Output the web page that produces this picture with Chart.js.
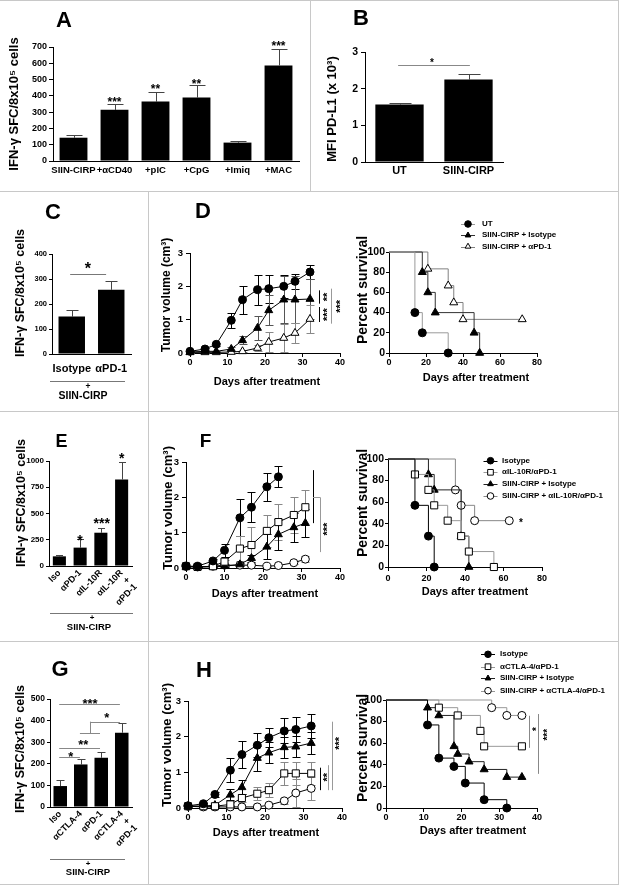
<!DOCTYPE html>
<html><head><meta charset="utf-8"><title>Figure</title>
<script src="https://cdn.jsdelivr.net/npm/chart.js@4.4.1/dist/chart.umd.min.js"></script>
<style>
html,body{margin:0;padding:0;background:#fff;}
#fig{position:relative;width:620px;height:887px;overflow:hidden;background:#fff;font-family:"Liberation Sans",Arial,Helvetica,sans-serif;font-weight:bold;color:#000;}
#fig canvas{position:absolute;}
.t{position:absolute;white-space:nowrap;line-height:1;transform:translate(-50%,-50%);}
.t.r{transform:translate(-50%,-50%) rotate(-90deg);}
.lg{position:absolute;white-space:nowrap;line-height:1;font-size:8px;transform:translateY(-50%);}
.bl{position:absolute;background:#c8c8c8;}
</style></head>
<body><div id="fig"></div>
<script>
// ================= DATA =================
// Panel A
const aCats = ['SIIN-CIRP', '+αCD40', '+pIC', '+CpG', '+Imiq', '+MAC'];
const aVals = [143, 314, 365, 390, 113, 587];
const aErrs = [17, 35, 58, 74, 12, 101];
const aTicks = [0, 100, 200, 300, 400, 500, 600, 700];
// Panel B
const bCats = ['UT', 'SIIN-CIRP'];
const bVals = [1.57, 2.25];
const bErrs = [0.05, 0.16];
const bTicks = [0, 1, 2, 3];
// Panel C
const cCats = ['Isotype', 'αPD-1'];
const cVals = [150, 257];
const cErrs = [27, 36];
const cTicks = [0, 100, 200, 300, 400];
// Panel E
const eCats = ['Iso', 'αPD-1', 'αIL-10R', ['αIL-10R', '+', 'αPD-1']];
const eVals = [92, 175, 317, 825];
const eErrs = [16, 79, 48, 165];
const eTicks = [0, 250, 500, 750, 1000];
// Panel G
const gCats = ['Iso', 'αCTLA-4', 'αPD-1', ['αCTLA-4', '+', 'αPD-1']];
const gVals = [97, 197, 228, 344];
const gErrs = [27, 24, 26, 43];
const gTicks = [0, 100, 200, 300, 400, 500];

// Tumor growth axes
const volTicks = [0, 1, 2, 3];
const dayTicks = [0, 10, 20, 30, 40];
// Survival axes
const pctTicks = [0, 20, 40, 60, 80, 100];
const surv80Ticks = [0, 20, 40, 60, 80];
const surv40Ticks = [0, 10, 20, 30, 40];

// Panel D
const dNames = ['UT', 'SIIN-CIRP + Isotype', 'SIIN-CIRP + αPD-1'];
const dDays = [0, 4, 7, 11, 14, 18, 21, 25, 28, 32];
const dVolUT  = [0.05, 0.12, 0.26, 0.98, 1.60, 1.90, 1.93, 2.00, 2.15, 2.43];
const dErrUT  = [0.02, 0.03, 0.05, 0.22, 0.42, 0.45, 0.42, 0.35, 0.23, 0.22];
const dVolIso = [0.03, 0.05, 0.05, 0.12, 0.38, 0.75, 1.28, 1.60, 1.60, 1.62];
const dErrIso = [0.01, 0.02, 0.02, 0.05, 0.12, 0.35, 0.45, 0.70, 0.70, 0.60];
const dVolPD1 = [0.02, 0.02, 0.02, 0.03, 0.05, 0.15, 0.33, 0.45, 0.60, 1.02];
const dErrPD1 = [0.01, 0.01, 0.01, 0.02, 0.03, 0.10, 0.30, 0.42, 0.30, 0.42];
const dSurvDayUT  = [0, 14, 18, 32];
const dSurvPctUT  = [100, 40, 20, 0];
const dSurvDayIso = [0, 18, 21, 25, 46, 49];
const dSurvPctIso = [100, 80, 60, 40, 20, 0];
const dSurvDayPD1 = [0, 21, 32, 35, 40, 72];
const dSurvPctPD1 = [100, 83.3, 66.7, 50, 33.3, 33.3];

// Panel F
const fNames = ['Isotype', 'αIL-10R/αPD-1', 'SIIN-CIRP + Isotype', 'SIIN-CIRP  + αIL-10R/αPD-1'];
const fDays = [0, 3, 7, 10, 14, 17, 21, 24, 28, 31];
const fVolIso    = [0.05, 0.05, 0.20, 0.50, 1.42, 1.72, 2.30, 2.58];
const fErrIso    = [0.02, 0.02, 0.05, 0.19, 0.52, 0.42, 0.40, 0.30];
const fVolCombo  = [0.05, 0.03, 0.05, 0.18, 0.55, 0.65, 1.05, 1.30, 1.50, 1.72];
const fErrCombo  = [0.01, 0.01, 0.02, 0.06, 0.35, 0.50, 0.45, 0.50, 0.50, 0.50];
const fVolSIso   = [0.03, 0.03, 0.03, 0.05, 0.10, 0.28, 0.60, 0.95, 1.15, 1.27];
const fErrSIso   = [0.01, 0.01, 0.01, 0.02, 0.03, 0.10, 0.35, 0.45, 0.40, 0.40];
const fVolSCombo = [0.05, 0.03, 0.05, 0.08, 0.08, 0.08, 0.05, 0.07, 0.15, 0.25];
const fErrSCombo = [0, 0, 0, 0.02, 0.02, 0.02, 0.02, 0.02, 0.05, 0.08];
const fSurvDayIso    = [0, 14, 21, 24];
const fSurvPctIso    = [100, 57.1, 28.6, 0];
const fSurvDayCombo  = [0, 14, 21, 24, 31, 38, 42, 55];
const fSurvPctCombo  = [100, 85.7, 71.4, 57.1, 42.9, 28.6, 14.3, 0];
const fSurvDaySIso   = [0, 21, 24, 38, 42];
const fSurvPctSIso   = [100, 85.7, 71.4, 28.6, 0];
const fSurvDaySCombo = [0, 35, 38, 45, 63];
const fSurvPctSCombo = [100, 71.4, 57.1, 42.9, 42.9];

// Panel H
const hNames = ['Isotype', 'αCTLA-4/αPD-1', 'SIIN-CIRP + Isotype', 'SIIN-CIRP  + αCTLA-4/αPD-1'];
const hDays = [0, 4, 7, 11, 14, 18, 21, 25, 28, 32];
const hVolIso    = [0.06, 0.12, 0.38, 1.06, 1.50, 1.76, 1.97, 2.16, 2.20, 2.30];
const hErrIso    = [0.02, 0.03, 0.06, 0.33, 0.37, 0.34, 0.27, 0.35, 0.35, 0.33];
const hVolCombo  = [0.05, 0.05, 0.05, 0.10, 0.28, 0.40, 0.50, 0.97, 0.97, 0.97];
const hErrCombo  = [0.01, 0.01, 0.02, 0.05, 0.12, 0.18, 0.20, 0.32, 0.32, 0.32];
const hVolSIso   = [0.05, 0.05, 0.08, 0.37, 0.58, 1.40, 1.55, 1.70, 1.72, 1.82];
const hErrSIso   = [0.01, 0.02, 0.03, 0.15, 0.20, 0.35, 0.30, 0.30, 0.30, 0.30];
const hVolSCombo = [0.05, 0.03, 0.03, 0.03, 0.03, 0.03, 0.08, 0.20, 0.42, 0.55];
const hErrSCombo = [0, 0, 0, 0, 0, 0, 0.03, 0.08, 0.38, 0.33];
const hSurvDayIso    = [0, 11, 14, 18, 21, 26, 32];
const hSurvPctIso    = [100, 76.9, 46.2, 38.5, 23.1, 7.7, 0];
const hSurvDayCombo  = [0, 14, 19, 25, 26, 36];
const hSurvPctCombo  = [100, 92.9, 85.7, 71.4, 57.1, 57.1];
const hSurvDaySIso   = [0, 11, 14, 18, 19, 22, 26, 32, 36];
const hSurvPctSIso   = [100, 92.9, 85.7, 57.1, 50, 42.9, 35.7, 28.6, 28.6];
const hSurvDaySCombo = [0, 28, 32, 36];
const hSurvPctSCombo = [100, 92.9, 85.7, 85.7];

// ================= RENDERING =================
const FONT = '"Liberation Sans", Arial, Helvetica, sans-serif';
Chart.defaults.font.family = FONT;
Chart.defaults.font.weight = 'bold';
Chart.defaults.color = '#000';

const fig = document.getElementById('fig');

function addCanvas(l, t, w, h) {
  const c = document.createElement('canvas');
  c.width = w; c.height = h;
  c.style.left = l + 'px'; c.style.top = t + 'px';
  c.style.width = w + 'px'; c.style.height = h + 'px';
  fig.appendChild(c);
  return c;
}

const errorBars = {
  id: 'errorBars',
  beforeDatasetsDraw(chart) {
    const ctx = chart.ctx;
    chart.data.datasets.forEach((ds, di) => {
      if (!ds.errors) return;
      const meta = chart.getDatasetMeta(di);
      const ys = chart.scales[meta.yAxisID];
      ctx.save();
      ctx.strokeStyle = ds.errColor || '#000';
      ctx.lineWidth = 1;
      meta.data.forEach((el, i) => {
        const e = ds.errors[i];
        if (!e) return;
        const raw = ds.data[i];
        const v = (raw !== null && typeof raw === 'object') ? raw.y : raw;
        const x = Math.round(el.x) + 0.5;
        const yt = Math.round(ys.getPixelForValue(v + e)) + 0.5;
        const yb = ds.errUpOnly ? ys.getPixelForValue(v) : Math.round(ys.getPixelForValue(v - e)) + 0.5;
        const cw = ds.errCap || 4;
        ctx.beginPath();
        ctx.moveTo(x, yt); ctx.lineTo(x, yb);
        ctx.moveTo(x - cw, yt); ctx.lineTo(x + cw, yt);
        if (!ds.errUpOnly) { ctx.moveTo(x - cw, yb); ctx.lineTo(x + cw, yb); }
        ctx.stroke();
      });
      ctx.restore();
    });
  }
};

function sigMarks(lines, texts) {
  return {
    id: 'sig',
    afterDatasetsDraw(chart) {
      const ctx = chart.ctx, xs = chart.scales.x, ys = chart.scales.y;
      ctx.save();
      ctx.lineWidth = 1;
      (lines || []).forEach(([x1, y1, x2, y2, col]) => {
        let px1 = xs.getPixelForValue(x1), py1 = ys.getPixelForValue(y1);
        let px2 = xs.getPixelForValue(x2), py2 = ys.getPixelForValue(y2);
        if (Math.abs(px1 - px2) < 0.5) { px1 = px2 = Math.round(px1) + 0.5; }
        if (Math.abs(py1 - py2) < 0.5) { py1 = py2 = Math.round(py1) + 0.5; }
        ctx.strokeStyle = col || '#000';
        ctx.beginPath(); ctx.moveTo(px1, py1); ctx.lineTo(px2, py2); ctx.stroke();
      });
      (texts || []).forEach(([t, x, y, size, rot]) => {
        const px = xs.getPixelForValue(x), py = ys.getPixelForValue(y);
        ctx.save();
        ctx.translate(px, py);
        if (rot) ctx.rotate(-Math.PI / 2);
        ctx.font = 'bold ' + size + 'px ' + FONT;
        ctx.fillStyle = '#000';
        ctx.textAlign = 'center';
        ctx.textBaseline = 'alphabetic';
        ctx.fillText(t, 0, size * 0.57);
        ctx.restore();
      });
      ctx.restore();
    }
  };
}

function linAxis(a, fit, isX) {
  return {
    type: 'linear', min: a.ticks[0], max: a.ticks[a.ticks.length - 1],
    afterBuildTicks: s => { s.ticks = a.ticks.map(v => ({ value: v })); },
    afterFit: s => { if (isX) s.height = fit; else s.width = fit; },
    grid: { display: true, drawOnChartArea: false, drawTicks: true, tickLength: a.tl, color: '#000', lineWidth: 1 },
    border: { display: true, color: '#000', width: 1 },
    ticks: { font: { size: a.fs, weight: 'bold' }, color: '#000', padding: a.pad, autoSkip: false, maxRotation: 0, minRotation: 0, callback: v => String(v) }
  };
}

function baseOpts(g) {
  return {
    responsive: false, maintainAspectRatio: false, animation: false, events: [],
    layout: { padding: { left: 0, top: g.pt, right: g.pr, bottom: 0 }, autoPadding: false },
    plugins: { legend: { display: false }, tooltip: { enabled: false }, title: { display: false } }
  };
}

function makeBar(box, g, cats, vals, errs, yAx, xAx, bp, cap, marks) {
  const cv = addCanvas(box[0], box[1], box[2], box[3]);
  const opts = baseOpts(g);
  opts.scales = {
    x: {
      type: 'category', offset: true,
      afterFit: s => { s.height = g.xh; },
      grid: { display: false, drawTicks: false },
      border: { display: true, color: '#000', width: 1 },
      ticks: { font: { size: xAx.fs, weight: 'bold', lineHeight: 1.1 }, color: '#000', padding: xAx.pad, autoSkip: false, minRotation: xAx.rot, maxRotation: xAx.rot }
    },
    y: linAxis(yAx, g.yw, false)
  };
  return new Chart(cv, {
    type: 'bar',
    data: { labels: cats, datasets: [{ data: vals, backgroundColor: '#000', borderWidth: 0, barPercentage: bp, categoryPercentage: 1, errors: errs, errUpOnly: true, errColor: '#444', errCap: cap }] },
    options: opts,
    plugins: [errorBars, sigMarks(marks.lines, marks.texts)]
  });
}

function makeXY(box, g, datasets, xAx, yAx, marks) {
  const cv = addCanvas(box[0], box[1], box[2], box[3]);
  const opts = baseOpts(g);
  opts.scales = { x: linAxis(xAx, g.xh, true), y: linAxis(yAx, g.yw, false) };
  return new Chart(cv, { type: 'line', data: { datasets }, options: opts, plugins: [errorBars, sigMarks(marks.lines, marks.texts)] });
}

const MK = {
  fc: { style: 'circle', r: 4, fill: '#000' },
  ft: { style: 'triangle', r: 4.6, fill: '#000' },
  ot: { style: 'triangle', r: 4.6, fill: '#fff' },
  os: { style: 'rect', r: 5, fill: '#fff' },
  oc: { style: 'circle', r: 4, fill: '#fff' }
};
const xy = (xs, ys) => xs.map((x, i) => ({ x, y: ys[i] }));

function tumorDS(label, days, vals, errs, mk, errColor) {
  const m = MK[mk];
  return {
    label, data: xy(days.slice(0, vals.length), vals), errors: errs, errColor,
    borderColor: '#000', borderWidth: 1, tension: 0, fill: false, clip: false,
    pointStyle: m.style, pointRadius: m.r, pointBackgroundColor: m.fill, pointBorderColor: '#000', pointBorderWidth: 1
  };
}
function survDS(label, days, pct, mk, color) {
  const m = MK[mk];
  return {
    label, data: xy(days, pct), stepped: 'before',
    borderColor: color, borderWidth: 1, fill: false, clip: false,
    pointStyle: m.style, pointRadius: days.map((d, i) => i === 0 ? 0 : m.r),
    pointBackgroundColor: m.fill, pointBorderColor: '#000', pointBorderWidth: 1
  };
}

// ---------- Bar panels ----------
makeBar([0, 30, 310, 160], { yw: 53, pt: 17, pr: 11, xh: 29 }, aCats, aVals, aErrs,
  { ticks: aTicks, fs: 9, pad: 2, tl: 4 }, { fs: 9.5, pad: 4, rot: 0 }, 0.68, 8,
  { texts: [['***', 1, 380, 12], ['**', 2, 462, 12], ['**', 3, 488, 12], ['***', 5, 725, 12]] });

makeBar([310, 30, 310, 160], { yw: 55, pt: 22, pr: 117, xh: 28 }, bCats, bVals, bErrs,
  { ticks: bTicks, fs: 10.5, pad: 3, tl: 4 }, { fs: 11, pad: 3, rot: 0 }, 0.70, 11,
  { lines: [[-0.02, 2.64, 1.02, 2.64, '#888']], texts: [['*', 0.47, 2.77, 10]] });

makeBar([0, 230, 148, 150], { yw: 52, pt: 24, pr: 17, xh: 26 }, cCats, cVals, cErrs,
  { ticks: cTicks, fs: 7.5, pad: 2, tl: 3 }, { fs: 11, pad: 9, rot: 0 }, 0.67, 6,
  { lines: [[-0.04, 320, 0.87, 320, '#777']], texts: [['*', 0.41, 357, 16]] });

makeBar([0, 440, 148, 172], { yw: 49, pt: 21, pr: 16, xh: 46 }, eCats, eVals, eErrs,
  { ticks: eTicks, fs: 8, pad: 2, tl: 3 }, { fs: 9, pad: 2, rot: 45 }, 0.63, 3.5,
  { texts: [['*', 0.99, 276, 14], ['***', 2.04, 435, 14], ['*', 3.0, 1054, 14]] });

makeBar([0, 678, 148, 178], { yw: 50, pt: 21, pr: 16, xh: 49 }, gCats, gVals, gErrs,
  { ticks: gTicks, fs: 8.5, pad: 2, tl: 3 }, { fs: 9, pad: 2, rot: 45 }, 0.66, 4,
  { lines: [[-0.05, 232, 0.96, 232, '#888'], [-0.05, 271, 1.94, 271, '#888'], [0.96, 341, 1.94, 341, '#888'],
            [1.45, 341, 1.45, 395, '#888'], [1.45, 395, 2.91, 395, '#888'], [-0.05, 477, 2.91, 477, '#888']],
    texts: [['*', 0.51, 248, 13], ['**', 1.12, 302, 13], ['*', 2.27, 426, 13], ['***', 1.45, 492, 13]] });

// ---------- Tumor growth panels ----------
const dayAx = { ticks: dayTicks, fs: 9, pad: 0, tl: 4 };
const volAx = { ticks: volTicks, fs: 9.5, pad: 3, tl: 4 };

makeXY([150, 233, 200, 137], { yw: 40, pt: 20, pr: 10, xh: 17 }, [
  tumorDS(dNames[0], dDays, dVolUT, dErrUT, 'fc', '#000'),
  tumorDS(dNames[1], dDays, dVolIso, dErrIso, 'ft', '#555'),
  tumorDS(dNames[2], dDays, dVolPD1, dErrPD1, 'ot', '#888')
], dayAx, volAx, {
  lines: [[34.5, 1.88, 34.5, 1.48, '#000'], [34.5, 1.38, 34.5, 0.93, '#000'], [37.7, 1.93, 37.7, 0.88, '#999']],
  texts: [['**', 36.0, 1.68, 11, true], ['***', 36.0, 1.15, 11, true], ['***', 39.3, 1.40, 11, true]]
});

makeXY([148, 442, 202, 143], { yw: 38, pt: 20, pr: 10, xh: 17 }, [
  tumorDS(fNames[0], fDays, fVolIso, fErrIso, 'fc', '#000'),
  tumorDS(fNames[1], fDays, fVolCombo, fErrCombo, 'os', '#888'),
  tumorDS(fNames[2], fDays, fVolSIso, fErrSIso, 'ft', '#000'),
  tumorDS(fNames[3], fDays, fVolSCombo, fErrSCombo, 'oc', '#888')
], dayAx, volAx, {
  lines: [[33, 2.77, 33, 1.27, '#000'], [33, 2.0, 34.8, 2.0, '#999'], [34.8, 2.0, 34.8, 0.45, '#999']],
  texts: [['***', 36.0, 1.10, 11, true]]
});

makeXY([148, 681, 204, 144], { yw: 40, pt: 20, pr: 10, xh: 17 }, [
  tumorDS(hNames[0], hDays, hVolIso, hErrIso, 'fc', '#000'),
  tumorDS(hNames[1], hDays, hVolCombo, hErrCombo, 'os', '#888'),
  tumorDS(hNames[2], hDays, hVolSIso, hErrSIso, 'ft', '#000'),
  tumorDS(hNames[3], hDays, hVolSCombo, hErrSCombo, 'oc', '#888')
], dayAx, volAx, {
  lines: [[34.3, 1.13, 34.3, 0.5, '#000'], [36.4, 1.2, 36.4, 0.5, '#999'], [37.3, 2.42, 37.3, 0.5, '#999']],
  texts: [['**', 35.4, 0.86, 11, true], ['***', 38.6, 1.81, 11, true]]
});

// ---------- Survival panels ----------
const pctAx = { ticks: pctTicks, fs: 10.5, pad: 1, tl: 3 };

const dCols = ['#9a9a9a', '#333', '#808080'];
makeXY([350, 232, 210, 138], { yw: 39, pt: 20, pr: 23, xh: 17 }, [
  survDS(dNames[0], dSurvDayUT, dSurvPctUT, 'fc', dCols[0]),
  survDS(dNames[1], dSurvDayIso, dSurvPctIso, 'ft', dCols[1]),
  survDS(dNames[2], dSurvDayPD1, dSurvPctPD1, 'ot', dCols[2])
], { ticks: surv80Ticks, fs: 9, pad: 0, tl: 4 }, pctAx, {});

const fCols = ['#000', '#999', '#222', '#888'];
makeXY([350, 440, 215, 144], { yw: 38, pt: 19, pr: 23, xh: 17 }, [
  survDS(fNames[0], fSurvDayIso, fSurvPctIso, 'fc', fCols[0]),
  survDS(fNames[1], fSurvDayCombo, fSurvPctCombo, 'os', fCols[1]),
  survDS(fNames[2], fSurvDaySIso, fSurvPctSIso, 'ft', fCols[2]),
  survDS(fNames[3], fSurvDaySCombo, fSurvPctSCombo, 'oc', fCols[3])
], { ticks: surv80Ticks, fs: 9, pad: 2, tl: 4 }, pctAx, { texts: [['*', 69, 43.5, 10]] });

const hCols = ['#000', '#999', '#222', '#999'];
makeXY([352, 680, 213, 145], { yw: 34, pt: 20, pr: 28, xh: 17 }, [
  survDS(hNames[0], hSurvDayIso, hSurvPctIso, 'fc', hCols[0]),
  survDS(hNames[1], hSurvDayCombo, hSurvPctCombo, 'os', hCols[1]),
  survDS(hNames[2], hSurvDaySIso, hSurvPctSIso, 'ft', hCols[2]),
  survDS(hNames[3], hSurvDaySCombo, hSurvPctSCombo, 'oc', hCols[3])
], { ticks: surv40Ticks, fs: 9, pad: 0, tl: 4 }, pctAx, {
  lines: [[37.9, 85.4, 37.9, 55.7, '#888'], [40.3, 87, 40.3, 31.6, '#888']],
  texts: [['*', 39.2, 73, 10, true], ['***', 42.1, 67.8, 10, true]]
});

// ---------- Legends (overlay) ----------
const ov = addCanvas(0, 0, 620, 887);
const octx = ov.getContext('2d');
function drawMk(ctx, m, x, y, r) {
  ctx.beginPath();
  if (m.style === 'circle') ctx.arc(x, y, r, 0, Math.PI * 2);
  else if (m.style === 'triangle') { ctx.moveTo(x, y - r); ctx.lineTo(x + r * 0.866, y + r * 0.5); ctx.lineTo(x - r * 0.866, y + r * 0.5); ctx.closePath(); }
  else { const s = r * 0.707; ctx.rect(x - s, y - s, 2 * s, 2 * s); }
  ctx.fillStyle = m.fill; ctx.fill();
  ctx.strokeStyle = '#000'; ctx.lineWidth = 1; ctx.stroke();
}
function legend(names, mks, cols, mx, tx, rows) {
  names.forEach((n, i) => {
    const y = rows[i];
    octx.strokeStyle = cols[i]; octx.lineWidth = 1;
    octx.beginPath(); octx.moveTo(mx - 7, Math.round(y) + 0.5); octx.lineTo(mx + 7, Math.round(y) + 0.5); octx.stroke();
    drawMk(octx, MK[mks[i]], mx, y, mks[i] === 'os' ? 4 : 3.3);
    const d = document.createElement('div');
    d.className = 'lg'; d.style.left = tx + 'px'; d.style.top = y + 'px';
    d.textContent = n; fig.appendChild(d);
  });
}
legend(dNames, ['fc', 'ft', 'ot'], dCols, 468, 482, [224, 235.3, 246.5]);
legend(fNames, ['fc', 'os', 'ft', 'oc'], fCols, 490.5, 502, [460.7, 472.3, 484, 496]);
legend(hNames, ['fc', 'os', 'ft', 'oc'], hCols, 488, 500, [654.3, 666.7, 678.3, 690.7]);

// ---------- Text ----------
function txt(s, cx, cy, size, rot) {
  const d = document.createElement('div');
  d.className = 't' + (rot ? ' r' : '');
  d.style.left = cx + 'px'; d.style.top = cy + 'px'; d.style.fontSize = size + 'px';
  d.textContent = s; fig.appendChild(d);
}
function rule(l, t, w, h, col) {
  const d = document.createElement('div');
  d.className = 'bl';
  d.style.left = l + 'px'; d.style.top = t + 'px'; d.style.width = w + 'px'; d.style.height = h + 'px';
  if (col) d.style.background = col;
  fig.appendChild(d);
}
// panel frame
rule(0, 0, 619, 1); rule(0, 191, 619, 1); rule(0, 411, 619, 1); rule(0, 641, 619, 1); rule(0, 884, 619, 1);
rule(310, 0, 1, 191); rule(148, 191, 1, 693); rule(618, 0, 1, 885);

// panel letters
txt('A', 64, 20, 22); txt('B', 361, 18, 22); txt('C', 53, 212, 22); txt('D', 203, 211, 22);
txt('E', 61.5, 441, 18); txt('F', 205.5, 440, 19); txt('G', 60, 669, 22); txt('H', 204, 670, 22);

// y titles
const ifn = 'IFN-γ SFC/8x10⁵ cells';
txt(ifn, 13, 104, 13, true);
txt('MFI PD-L1 (x 10³)', 331, 109, 13, true);
txt(ifn, 20, 293, 12.5, true);
txt(ifn, 21, 503, 12.5, true);
txt(ifn, 20, 749, 12.5, true);
txt('Tumor volume (cm³)', 166, 295, 12, true);
txt('Tumor volume (cm³)', 167, 508, 13, true);
txt('Tumor volume (cm³)', 166, 745, 13, true);
txt('Percent survival', 362, 290, 14, true);
txt('Percent survival', 362, 503, 14, true);
txt('Percent survival', 362, 748, 14, true);

// x titles
const dat = 'Days after treatment';
txt(dat, 267, 381, 11); txt(dat, 476, 377, 11);
txt(dat, 265, 593, 11); txt(dat, 475, 591, 11);
txt(dat, 266, 832, 11); txt(dat, 473, 830, 11);

// "+ SIIN-CIRP" group labels
rule(50, 381, 75, 1, '#777'); txt('+', 88, 385.5, 8.5); txt('SIIN-CIRP', 83, 395, 10.5);
rule(50, 613, 83, 1, '#777'); txt('+', 92, 617.5, 8); txt('SIIN-CIRP', 89, 626.5, 9.5);
rule(50, 859, 75, 1, '#777'); txt('+', 88, 863.5, 8); txt('SIIN-CIRP', 88, 872, 9.5);
</script></body></html>
